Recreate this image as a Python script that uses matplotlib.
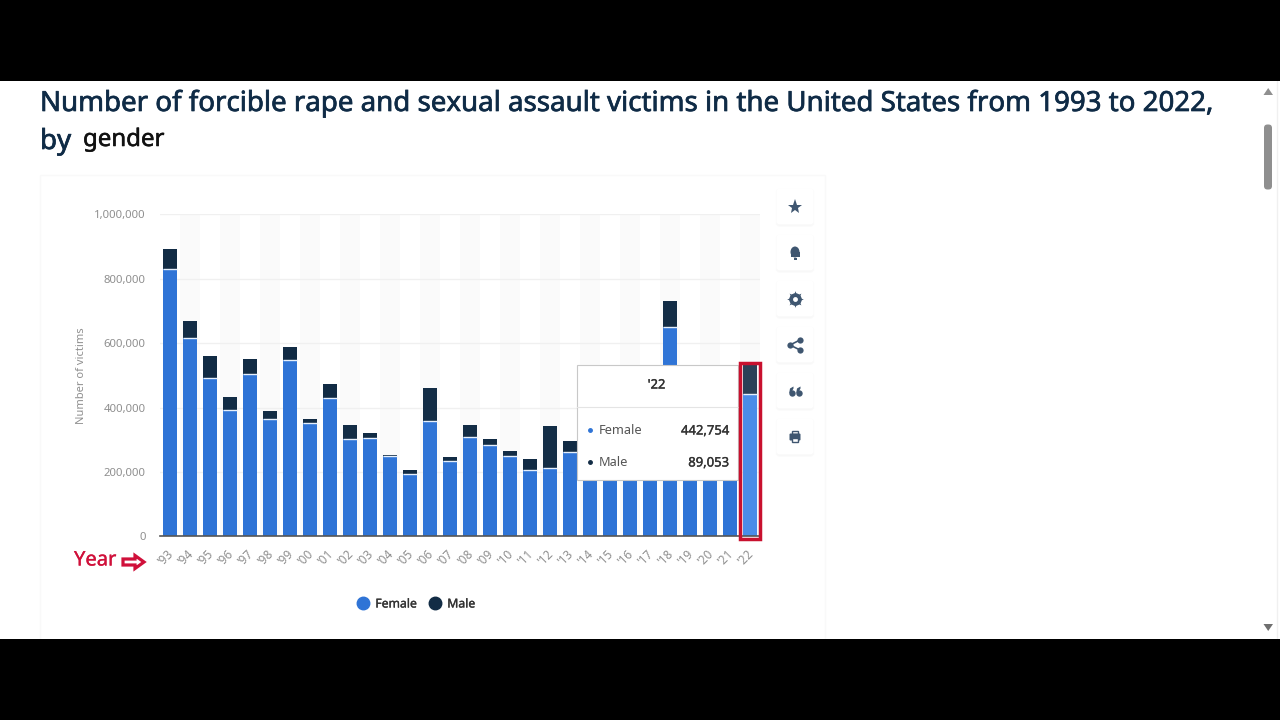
import numpy as np
import matplotlib
matplotlib.use('Agg')
import matplotlib.pyplot as plt
import matplotlib.patches as mpatches
import matplotlib.patheffects as pe
from matplotlib.lines import Line2D
from matplotlib.transforms import ScaledTranslation

years = ["'93","'94","'95","'96","'97","'98","'99","'00","'01","'02","'03","'04","'05","'06","'07",
         "'08","'09","'10","'11","'12","'13","'14","'15","'16","'17","'18","'19","'20","'21","'22"]
# 2014-17 and 2019-21 tops sit behind the tooltip, so those are estimates
female = [832000,615000,491000,392000,505000,363000,549000,351000,429000,302000,305000,248000,193000,359000,235000,
          308000,284000,248000,206000,211000,262000,250000,370000,280000,340000,650000,400000,280000,290000,442754]
male = [60000,53000,69000,41000,46000,26000,39000,14000,44000,44000,16000,5000,14000,101000,10000,
        37000,17000,16000,33000,131000,33000,34000,61000,43000,53000,81000,59000,39000,34000,89053]
y_ticks = [0,200000,400000,600000,800000,1000000]

plt.rcParams['font.family'] = ['Noto Sans','DejaVu Sans']

W, H = 1280, 720
blue = '#2f74d6'
navy = '#122c45'
red = '#c8102e'
icon_col = '#3f5670'

def heavy(txt,w=0.4):
    # no semibold face available, so thicken the regular one
    txt.set_path_effects([pe.withStroke(linewidth=w,foreground=txt.get_color())])
    return txt

fig = plt.figure(figsize=(12.8,7.2),dpi=100,facecolor='white')

# page layer, in pixel coordinates
bg = fig.add_axes([0,0,1,1],zorder=0)
bg.set_xlim(0,W)
bg.set_ylim(H,0)
bg.axis('off')
bg.add_patch(mpatches.Rectangle((40,175),785,470,fc='white',ec='#f9f9f9',lw=1))

# chart
ax = fig.add_axes([160.3/W,1-536.3/H,600/W,321.8/H],zorder=1)
ax.patch.set_alpha(0)
x = np.arange(len(years))
female = np.array(female)
male = np.array(male)

for i in x[1::2]:
    ax.axvspan(i-0.5,i+0.5,color='#fafafa',lw=0,zorder=0)
ax.set_axisbelow(True)
ax.grid(axis='y',color='#f0f0f0',lw=1)

f_cols = [blue]*(len(x)-1)+['#4a8ce8']
m_cols = [navy]*(len(x)-1)+['#2b4057']
ax.bar(x,female,width=0.7,color=f_cols,zorder=2)
ax.bar(x,male,width=0.7,bottom=female,color=m_cols,zorder=2)
ax.hlines(female,x-0.35,x+0.35,color='#e6effb',lw=1,zorder=3)

ax.set_xlim(-0.5,29.5)
ax.set_ylim(0,1000000)
ax.set_yticks(y_ticks)
ax.set_yticklabels([f'{v:,}' for v in y_ticks],fontsize=8.2,color='#8f8f8f')
ax.set_xticks(x)
ax.set_xticklabels(years,fontsize=8.5,color='#8f8f8f',rotation=45,ha='right',rotation_mode='anchor')
ax.tick_params(axis='both',length=0)
ax.tick_params(axis='y',pad=10.5)
ax.tick_params(axis='x',pad=8)
shift = ScaledTranslation(-4/100,0,fig.dpi_scale_trans)
for lab in ax.get_xticklabels():
    lab.set_transform(lab.get_transform()+shift)
for s in ['top','left','right']:
    ax.spines[s].set_visible(False)
ax.spines['bottom'].set_color('#555555')
ax.spines['bottom'].set_linewidth(1.2)
ax.set_ylabel('Number of victims',fontsize=8,color='#8f8f8f')
ax.yaxis.set_label_coords(-0.123,0.5)

handles = [Line2D([],[],marker='o',ls='',ms=9,color=blue,label='Female'),
           Line2D([],[],marker='o',ls='',ms=9,color=navy,label='Male')]
leg = fig.legend(handles=handles,ncol=2,frameon=False,loc='center',bbox_to_anchor=(413/W,1-604/H),
                 fontsize=8.8,handletextpad=0.0,columnspacing=0.5,labelcolor='#333333')
for t in leg.get_texts():
    heavy(t,0.25)

# overlay layer
ov = fig.add_axes([0,0,1,1],zorder=2)
ov.set_xlim(0,W)
ov.set_ylim(H,0)
ov.axis('off')

ov.add_patch(mpatches.Rectangle((0,0),W,81,fc='black',ec='none',zorder=10))
ov.add_patch(mpatches.Rectangle((0,638.5),W,H-638.5,fc='black',ec='none',zorder=10))

# title
heavy(ov.text(40,104,'Number of forcible rape and sexual assault victims in the United States from 1993 to 2022,',
        fontsize=19.93,color='#0f2b46',va='center',ha='left'),0.5)
heavy(ov.text(40,142,'by',fontsize=19.93,color='#0f2b46',va='center',ha='left'),0.5)
heavy(ov.text(83,140,'gender',fontsize=17.3,color='#111111',va='center',ha='left'),0.4)

# tooltip
ov.add_patch(mpatches.Rectangle((577,365),161,115,fc='white',ec='#c8c8c8',lw=0.8,zorder=4))
ov.plot([577,738],[407,407],color='#e4e4e4',lw=0.8,zorder=5)
heavy(ov.text(656.5,385,"'22",fontsize=9.3,color='#333333',ha='center',va='center',zorder=5),0.3)
ov.plot(590,430,'o',ms=2.5,color=blue,zorder=5)
ov.plot(590,462,'o',ms=2.5,color=navy,zorder=5)
ov.text(599,431,'Female',fontsize=9.2,color='#555555',va='center',zorder=5)
ov.text(599,463,'Male',fontsize=9.2,color='#555555',va='center',zorder=5)
heavy(ov.text(729,431,'442,754',fontsize=9.4,color='#333333',ha='right',va='center',zorder=5),0.25)
heavy(ov.text(729,463,'89,053',fontsize=9.4,color='#333333',ha='right',va='center',zorder=5),0.25)

# red highlight around the last bar
ov.add_patch(mpatches.Rectangle((740,363),20,176,fc='none',ec=red,lw=2.5,zorder=6))

# year annotation
heavy(ov.text(74,560.5,'Year',fontsize=14.5,color='#d0103a',va='center',ha='left'),0.2)
ov.add_patch(mpatches.FancyArrow(123,562,21,0,width=6,head_width=13,head_length=9,
                                 length_includes_head=True,fc='white',ec='#d0103a',lw=2.3))

# side buttons
btn_y = [207,253,299,345,391,437]
for yy in btn_y:
    ov.add_patch(mpatches.FancyBboxPatch((778,yy-16),34,33.5,boxstyle='round,pad=1.5,rounding_size=3',
                                         fc='#f6f6f6',ec='#fafafa',lw=1))
    ov.add_patch(mpatches.FancyBboxPatch((778,yy-17),34,33,boxstyle='round,pad=1.5,rounding_size=3',
                                         fc='white',ec='none'))
ov.plot(795,207,marker='*',ms=11,color=icon_col,mew=0)
ov.add_patch(mpatches.Ellipse((795,252),9,11,fc=icon_col,ec='none'))
ov.add_patch(mpatches.Rectangle((790.5,252),9,5,fc=icon_col,ec='none'))
ov.add_patch(mpatches.Rectangle((793.5,258),3,1.5,fc=icon_col,ec='none'))
ov.plot(795,299,marker=(8,1,0),ms=12,color=icon_col,mew=0)
ov.plot(795,299,'o',ms=9,color=icon_col,mew=0)
ov.plot(795,299,'o',ms=3.5,color='white',mew=0)
ov.plot([800,790,800],[340,345,350],color=icon_col,lw=1.2)
ov.plot([800,790,800],[340,345,350],'o',ms=4.5,color=icon_col,mew=0)
for qx in [791.5,798.5]:
    ov.plot(qx,393,'o',ms=4.6,color=icon_col,mew=0)
    ov.add_patch(mpatches.Polygon([[qx-2.3,393],[qx-1.5,388.5],[qx+2,386.5],[qx+2,388.5],[qx,392]],fc=icon_col,ec='none'))
ov.add_patch(mpatches.Rectangle((792,431),6,3,fc='none',ec=icon_col,lw=1))
ov.add_patch(mpatches.FancyBboxPatch((790,434),10,6,boxstyle='round,pad=0.5,rounding_size=1',fc=icon_col,ec='none'))
ov.add_patch(mpatches.Rectangle((792,438),6,4,fc='white',ec=icon_col,lw=1))

# scrollbar
ov.add_patch(mpatches.FancyBboxPatch((1264.5,125),7,64,boxstyle='round,pad=0.5,rounding_size=3.5',fc='#8f8f8f',ec='none'))
ov.add_patch(mpatches.Polygon([[1263.5,95],[1273,95],[1268.2,88]],fc='#8f8f8f',ec='none'))
ov.add_patch(mpatches.Polygon([[1263.5,624],[1273,624],[1268.2,631]],fc='#6f6f6f',ec='none'))
ov.plot([1277,1277],[81,638],color='#f0f0f0',lw=1)

fig.savefig('out.png',dpi=100)
